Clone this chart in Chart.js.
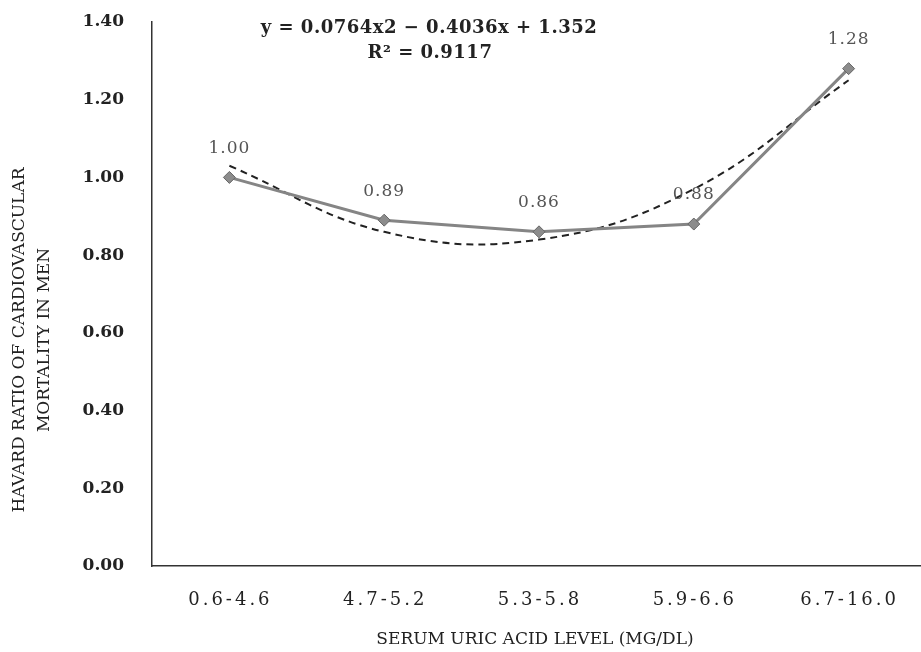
<!DOCTYPE html>
<html>
<head>
<meta charset="utf-8">
<script src="https://cdn.jsdelivr.net/npm/chart.js@4"></script>
<style>
  html, body { margin: 0; padding: 0; background: #fff; overflow: hidden; }
  #wrap { width: 933px; height: 652px; }
</style>
</head>
<body>
<div id="wrap"><canvas id="chart"></canvas></div>
<script>
const categories = ['0.6-4.6', '4.7-5.2', '5.3-5.8', '5.9-6.6', '6.7-16.0'];
const hazardRatios = [1.00, 0.89, 0.86, 0.88, 1.28];
const trendValues = [1.03, 0.86, 0.84, 0.97, 1.25];
const yTicks = [0, 0.2, 0.4, 0.6, 0.8, 1.0, 1.2, 1.4];
const equationLines = ['y = 0.0764x2 \u2212 0.4036x + 1.352', 'R\u00b2 = 0.9117'];
const xTitle = 'SERUM URIC ACID LEVEL (MG/DL)';
const yTitle = ['HAVARD RATIO OF CARDIOVASCULAR', 'MORTALITY IN MEN'];

const serif = '"DejaVu Serif", "Liberation Serif", serif';

// labels, titles and equation drawn by hand (letter spacing)
const labelPlugin = {
  id: 'labels',
  afterDraw(chart) {
    const ctx = chart.ctx;
    const meta = chart.getDatasetMeta(0);
    const xs = chart.scales.x;
    ctx.save();
    ctx.textAlign = 'center';
    ctx.textBaseline = 'middle';

    ctx.font = '17px ' + serif;
    ctx.fillStyle = '#555';
    ctx.letterSpacing = '1px';
    meta.data.forEach((pt, i) => {
      ctx.fillText(hazardRatios[i].toFixed(2), pt.x, pt.y - 29);
    });

    ctx.fillStyle = '#222';
    ctx.font = '18px ' + serif;
    ctx.letterSpacing = '3px';
    categories.forEach((c, i) => {
      ctx.fillText(c, xs.getPixelForValue(i) + 1, 600);
    });

    ctx.letterSpacing = '0px';
    ctx.font = '17px ' + serif;
    ctx.fillText(xTitle, 535, 640);

    ctx.save();
    ctx.translate(20, 340);
    ctx.rotate(-Math.PI / 2);
    ctx.fillText(yTitle[0], 0, 0);
    ctx.fillText(yTitle[1], 0, 25);
    ctx.restore();

    ctx.font = 'bold 18px ' + serif;
    ctx.letterSpacing = '0.5px';
    ctx.fillText(equationLines[0], 429, 28);
    ctx.fillText(equationLines[1], 430, 53);
    ctx.restore();
  }
};

new Chart(document.getElementById('chart'), {
  type: 'line',
  data: {
    labels: categories,
    datasets: [{
      data: hazardRatios,
      borderColor: '#858585',
      borderWidth: 3,
      pointStyle: 'rectRot',
      pointRadius: 6,
      pointBackgroundColor: '#8c8c8c',
      pointBorderColor: '#666',
      pointBorderWidth: 1,
      tension: 0,
      clip: false
    }, {
      data: trendValues,
      borderColor: '#222',
      borderWidth: 2,
      borderDash: [7, 5],
      pointRadius: 0,
      tension: 0.4,
      clip: false
    }]
  },
  options: {
    responsive: true,
    maintainAspectRatio: false,
    animation: false,
    layout: { padding: { top: 22, right: 0, left: 0, bottom: 0 } },
    plugins: { legend: { display: false }, tooltip: { enabled: false } },
    scales: {
      x: {
        offset: true,
        grid: { display: false, drawTicks: false },
        border: { color: '#333', width: 1.5 },
        ticks: { display: false },
        afterFit(s) { s.height = 86; s.paddingLeft = 0; s.paddingRight = 0; }
      },
      y: {
        min: 0,
        max: 1.4,
        grid: { display: false, drawTicks: false },
        border: { color: '#333', width: 1.5 },
        afterBuildTicks(s) { s.ticks = yTicks.map(v => ({ value: v })); },
        ticks: {
          color: '#222',
          font: { family: serif, size: 17, weight: 'bold' },
          padding: 28,
          callback: v => v.toFixed(2)
        },
        afterFit(s) { s.width = 152; s.paddingTop = 0; s.paddingBottom = 0; }
      }
    }
  },
  plugins: [labelPlugin]
});
</script>
</body>
</html>
